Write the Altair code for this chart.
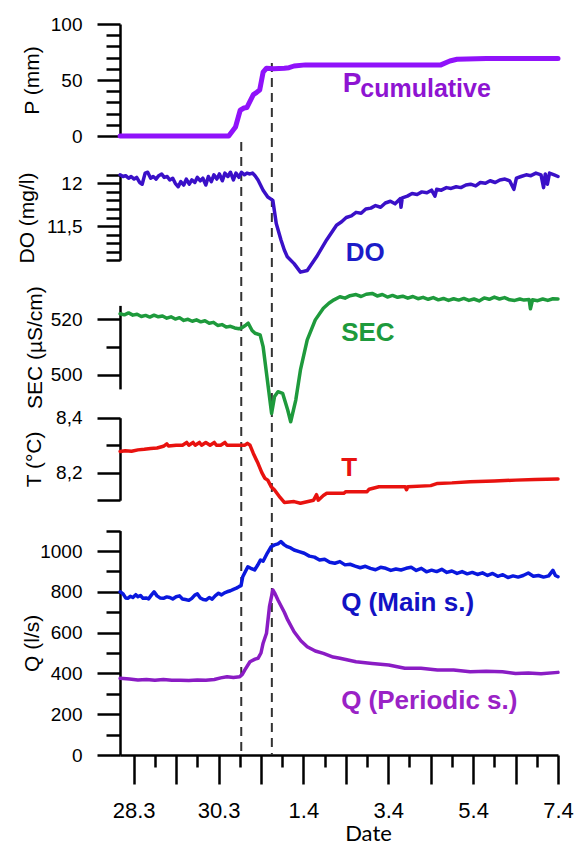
import altair as alt
import pandas as pd

# ---------------- data (days counted from 28.3 00:00) ----------------
DATE_LABELS = ["28.3", "29.3", "30.3", "31.3", "1.4", "2.4", "3.4", "4.4", "5.4", "6.4", "7.4"]
EVENT_DAYS = [2.535, 3.256]

P_DAY = [-0.32, 2.24, 2.40, 2.51, 2.60, 2.67, 2.82, 2.90, 2.97, 3.05, 3.13, 3.30, 3.55, 3.66, 3.78,
         4.05, 7.24, 7.45, 7.62, 8.31, 10.0]
P_MM = [0, 0, 8, 23, 25, 25.5, 37, 39, 41, 57, 60.5, 60, 60.5, 61, 62.5,
        63.5, 63.5, 67, 68.5, 69.3, 69.3]

DO_DAY = [-0.32, -0.25, -0.19, -0.12, -0.06, 0.01, 0.07, 0.14, 0.20, 0.27, 0.33, 0.40, 0.46, 0.53,
          0.59, 0.66, 0.72, 0.79, 0.85, 0.92, 0.98, 1.05, 1.11, 1.18, 1.24, 1.31, 1.37, 1.44, 1.50,
          1.57, 1.63, 1.70, 1.76, 1.83, 1.89, 1.96, 2.02, 2.09, 2.15, 2.22, 2.28, 2.35, 2.41, 2.48,
          2.54, 2.61, 2.67, 2.74, 2.80, 2.86, 2.93, 3.05, 3.16, 3.28, 3.36, 3.47, 3.55, 3.62, 3.78,
          3.93, 4.09, 4.31, 4.55, 4.78, 4.90, 5.01, 5.13, 5.24, 5.36, 5.47, 5.59, 5.70, 5.82, 5.93,
          6.05, 6.16, 6.28, 6.30, 6.33, 6.45, 6.56, 6.68, 6.79, 6.91, 7.02, 7.10, 7.14, 7.25, 7.37,
          7.48, 7.60, 7.71, 7.83, 7.94, 8.06, 8.17, 8.29, 8.40, 8.52, 8.63, 8.75, 8.86, 8.96, 9.02,
          9.13, 9.25, 9.36, 9.48, 9.60, 9.66, 9.70, 9.75, 9.80, 9.91, 10.0]
DO_MGL = [12.10, 12.08, 12.09, 12.06, 12.08, 12.05, 12.07, 12.01, 11.99, 12.12, 12.13, 12.06, 12.08, 12.05,
          12.09, 12.11, 12.07, 12.08, 12.04, 12.06, 12.00, 11.96, 12.02, 11.98, 12.05, 11.99, 12.04, 12.01, 12.07,
          12.03, 12.06, 11.98, 12.08, 12.02, 12.10, 12.05, 12.11, 12.03, 12.12, 12.08, 12.13, 12.04, 12.12, 12.07,
          12.13, 12.10, 12.12, 12.11, 12.12, 12.09, 12.04, 11.92, 11.84, 11.80, 11.53, 11.34, 11.22, 11.14, 11.06,
          10.96, 10.98, 11.14, 11.34, 11.51, 11.55, 11.60, 11.62, 11.66, 11.65, 11.70, 11.71, 11.74, 11.72, 11.77,
          11.79, 11.76, 11.82, 11.72, 11.83, 11.85, 11.88, 11.87, 11.90, 11.89, 11.92, 11.85, 11.93, 11.92, 11.95,
          11.94, 11.96, 11.95, 11.98, 11.99, 11.97, 12.01, 12.00, 12.03, 12.01, 12.04, 12.05, 12.03, 11.93, 12.06,
          12.08, 12.10, 12.09, 12.12, 12.10, 11.95, 12.11, 11.99, 12.12, 12.10, 12.08]

SEC_DAY = [-0.32, -0.22, -0.12, -0.02, 0.08, 0.18, 0.28, 0.38, 0.48, 0.58, 0.68, 0.78, 0.88, 0.98, 1.08,
           1.18, 1.28, 1.38, 1.48, 1.58, 1.68, 1.78, 1.88, 1.98, 2.08, 2.18, 2.28, 2.38, 2.48, 2.54, 2.64,
           2.70, 2.79, 2.86, 2.98, 3.05, 3.13, 3.25, 3.32, 3.40, 3.51, 3.63, 3.70, 3.82, 3.93, 4.09, 4.28,
           4.47, 4.60, 4.72, 4.86, 4.98, 5.10, 5.24, 5.36, 5.48, 5.62, 5.74, 5.86, 5.98, 6.10, 6.22, 6.34,
           6.46, 6.58, 6.70, 6.82, 6.94, 7.06, 7.18, 7.30, 7.42, 7.54, 7.66, 7.78, 7.90, 8.02, 8.14, 8.26,
           8.38, 8.50, 8.62, 8.74, 8.86, 8.98, 9.10, 9.20, 9.32, 9.35, 9.40, 9.52, 9.64, 9.76, 9.88, 10.0]
SEC_USCM = [522.0, 521.6, 522.3, 521.5, 521.8, 521.0, 521.4, 520.8, 521.5, 520.9, 521.2, 520.4, 520.9, 520.1, 520.6,
            519.6, 520.0, 519.3, 519.8, 519.1, 519.5, 518.6, 518.9, 517.8, 518.1, 517.2, 517.5, 516.9, 516.6, 516.9, 517.9,
            518.6, 516.0, 515.0, 514.4, 510.2, 500.6, 486.2, 492.3, 494.0, 493.4, 487.4, 483.2, 491.0, 501.8, 512.6, 519.8,
            524.0, 525.8, 527.0, 528.1, 527.6, 528.5, 528.9, 528.2, 529.0, 529.3, 528.4, 528.9, 528.0, 528.6, 527.9, 528.3,
            527.6, 528.2, 527.4, 527.9, 527.2, 527.8, 527.0, 527.5, 526.8, 527.4, 526.9, 527.5, 526.8, 527.3, 526.6, 527.7,
            527.2, 528.0, 527.3, 527.8, 527.0, 526.8, 527.3, 526.9, 527.1, 523.8, 527.0, 526.7, 527.3, 526.8, 527.4, 527.3]

T_DAY = [-0.32, -0.20, -0.05, 0.10, 0.25, 0.40, 0.55, 0.70, 0.78, 0.82, 1.00, 1.15, 1.25, 1.30, 1.40, 1.45,
         1.55, 1.60, 1.70, 1.80, 1.90, 1.95, 2.05, 2.15, 2.20, 2.35, 2.50, 2.62, 2.68, 2.74, 2.82, 2.93,
         3.02, 3.09, 3.16, 3.24, 3.32, 3.45, 3.55, 3.78, 3.93, 4.24, 4.31, 4.35, 4.47, 4.55, 4.95, 5.00,
         5.50, 5.55, 5.78, 6.40, 6.43, 6.46, 7.00, 7.16, 7.50, 7.93, 8.50, 9.00, 9.46, 10.0]
T_C = [8.277, 8.280, 8.278, 8.283, 8.285, 8.288, 8.290, 8.296, 8.305, 8.297, 8.300, 8.300, 8.310, 8.300, 8.310, 8.300,
       8.310, 8.300, 8.310, 8.300, 8.310, 8.300, 8.300, 8.310, 8.300, 8.300, 8.300, 8.300, 8.307, 8.300, 8.270, 8.234,
       8.200, 8.180, 8.173, 8.149, 8.137, 8.110, 8.092, 8.095, 8.089, 8.100, 8.120, 8.100, 8.117, 8.125, 8.125, 8.131,
       8.131, 8.140, 8.149, 8.149, 8.138, 8.149, 8.153, 8.161, 8.163, 8.167, 8.170, 8.173, 8.175, 8.177]

QM_DAY = [-0.32, -0.25, -0.19, -0.14, -0.08, -0.02, 0.05, 0.10, 0.16, 0.22, 0.29, 0.35, 0.42, 0.48, 0.55,
          0.62, 0.70, 0.78, 0.85, 0.92, 1.00, 1.08, 1.15, 1.22, 1.30, 1.37, 1.44, 1.50, 1.57, 1.64, 1.71,
          1.78, 1.85, 1.92, 2.00, 2.07, 2.14, 2.20, 2.28, 2.35, 2.42, 2.48, 2.53, 2.57, 2.69, 2.76, 2.85,
          2.92, 2.99, 3.05, 3.15, 3.24, 3.32, 3.40, 3.47, 3.55, 3.62, 3.70, 3.78, 3.90, 4.02, 4.14, 4.26,
          4.38, 4.50, 4.62, 4.74, 4.86, 4.98, 5.10, 5.22, 5.34, 5.46, 5.58, 5.70, 5.82, 5.94, 6.06, 6.18,
          6.30, 6.42, 6.54, 6.66, 6.78, 6.90, 7.02, 7.14, 7.26, 7.38, 7.50, 7.62, 7.74, 7.86, 7.98, 8.10,
          8.22, 8.34, 8.46, 8.58, 8.70, 8.82, 8.94, 9.06, 9.18, 9.30, 9.42, 9.54, 9.66, 9.78, 9.88, 9.94, 10.0]
QM_LS = [800, 790, 770, 768, 778, 772, 786, 776, 782, 768, 770, 765, 785, 800, 780,
         770, 768, 775, 772, 765, 776, 780, 765, 762, 758, 768, 784, 790, 770, 762, 760,
         772, 764, 780, 793, 785, 795, 800, 805, 812, 818, 825, 830, 874, 923, 915, 907,
         930, 956, 950, 990, 1021, 1030, 1035, 1046, 1030, 1021, 1015, 1005, 997, 989, 975, 970,
         956, 960, 945, 940, 948, 932, 935, 926, 918, 925, 915, 908, 920, 915, 905, 912,
         907, 915, 920, 905, 915, 898, 906, 899, 910, 895, 902, 890, 899, 888, 895, 885,
         893, 880, 890, 876, 884, 870, 878, 872, 880, 892, 876, 880, 872, 878, 905, 880, 874]

QP_DAY = [-0.32, -0.10, 0.10, 0.30, 0.50, 0.70, 0.90, 1.10, 1.30, 1.50, 1.70, 1.90, 2.05, 2.20, 2.35,
          2.50, 2.56, 2.62, 2.74, 2.86, 2.93, 3.00, 3.05, 3.13, 3.20, 3.28, 3.32, 3.40, 3.55, 3.63,
          3.78, 3.94, 4.09, 4.28, 4.47, 4.70, 4.86, 5.24, 5.62, 6.01, 6.39, 6.77, 7.16, 7.54, 7.93,
          8.31, 8.69, 9.00, 9.30, 9.60, 10.0]
QP_LS = [376, 372, 368, 370, 366, 370, 367, 366, 365, 368, 366, 370, 378, 384, 380,
         384, 395, 417, 457, 470, 474, 500, 548, 597, 727, 809, 795, 760, 700, 662,
         604, 560, 531, 510, 498, 480, 474, 457, 449, 441, 425, 425, 417, 417, 408,
         410, 408, 400, 402, 398, 405]

# series labels: text, day (left edge), value on own axis
P_LABEL = [("P", 4.93, 39.6, 28), ("cumulative", 5.34, 35.2, 25)]
DO_LABEL = ("DO", 5.0, 11.19)
SEC_LABEL = ("SEC", 4.89, 515.1)
T_LABEL = ("T", 4.89, 8.217)
QM_LABEL = ("Q (Main s.)", 4.89, 747)
QP_LABEL = ("Q (Periodic s.)", 4.89, 267)

# ---------------- styling ----------------
FONT = "Liberation Sans"
LEFT, W, RIGHT = 112, 438, 17
H = 731

C_P, C_PT = "#9012FA", "#8E14D2"
C_DO, C_DOT = "#3A10C8", "#1C1CC8"
C_SEC = "#1E9A3C"
C_T = "#E8120F"
C_QM, C_QMT = "#0A18DE", "#1212C4"
C_QP, C_QPT = "#8A1CC4", "#9A22C6"
LW = 3.5

xscale = alt.Scale(domain=[-0.3226, 10], nice=False, zero=False)


def lab_expr(pairs):
    expr = "''"
    for v, s in reversed(pairs):
        expr = f"abs(datum.value - {v}) < 1e-6 ? '{s}' : ({expr})"
    return expr


def size_cond(long_vals, long, short):
    test = " || ".join(f"abs(datum.value - {v}) < 1e-6" for v in long_vals)
    return {"condition": {"test": test, "value": long}, "value": short}


x_vals = [i * 0.5 for i in range(21)]
xaxis = alt.Axis(
    values=x_vals,
    labelExpr=lab_expr([(i, DATE_LABELS[i]) for i in range(0, 11, 2)]),
    tickSize=size_cond(list(range(11)), 29, 12),
    tickWidth=2.5, tickColor="black", domainColor="black", domainWidth=2.5,
    labelFont=FONT, labelFontSize=22, labelColor="black", labelPadding=16,
    labelOverlap=False, labelFlush=False, grid=False,
    title="Date", titleFont="Lato", titleFontSize=22, titleFontWeight="normal",
    titleColor="black", titleX=248, titleY=68, titleBaseline="top", titleAlign="center",
)


def yaxis(title, values, labels, long_vals, title_x, rng):
    return alt.Axis(
        title=title, orient="left", values=values, labelExpr=lab_expr(labels),
        tickSize=size_cond(long_vals, 23, 14), tickWidth=2.5, tickColor="black",
        domainColor="black", domainWidth=2.5,
        labelFont=FONT, labelFontSize=19, labelColor="black", labelPadding=15,
        labelOverlap=False, labelFlush=False, grid=False,
        titleFont=FONT, titleFontSize=21, titleFontWeight="normal", titleColor="black",
        titleAngle=270, titleBaseline="bottom", titleAlign="center",
        titleX=title_x, titleY=(rng[0] + rng[1]) / 2,
    )


def line(days, vals, color, width, scale, axis):
    df = pd.DataFrame({"day": days, "v": vals})
    return alt.Chart(df).mark_line(color=color, strokeWidth=width, strokeJoin="round",
                                   strokeCap="round").encode(
        x=alt.X("day:Q", scale=xscale, axis=xaxis),
        y=alt.Y("v:Q", scale=scale, axis=axis),
    )


def label(text, day, val, color, scale, axis, size=26, baseline="middle"):
    df = pd.DataFrame({"day": [day], "v": [val], "t": [text]})
    return alt.Chart(df).mark_text(align="left", baseline=baseline, font=FONT, fontWeight="bold",
                                   fontSize=size, color=color).encode(
        x=alt.X("day:Q", scale=xscale, axis=xaxis),
        y=alt.Y("v:Q", scale=scale, axis=axis),
        text="t:N",
    )


# P panel
rP = [112, 0]
sP = alt.Scale(domain=[0, 100], range=rP, nice=False, zero=False)
aP = yaxis("P (mm)", list(range(0, 101, 10)), [(0, "0"), (50, "50"), (100, "100")], [0, 50, 100], -78, rP)
panelP = alt.layer(
    line(P_DAY, P_MM, C_P, 5, sP, aP),
    label(P_LABEL[0][0], P_LABEL[0][1], P_LABEL[0][2], C_PT, sP, aP, P_LABEL[0][3], "alphabetic"),
    label(P_LABEL[1][0], P_LABEL[1][1], P_LABEL[1][2], C_PT, sP, aP, P_LABEL[1][3], "alphabetic"),
)

# DO panel
rDO = [236.2, 150.8]
sDO = alt.Scale(domain=[11.1, 12.1], range=rDO, nice=False, zero=False)
aDO = yaxis("DO (mg/l)", [round(11.1 + 0.1 * i, 1) for i in range(11)], [(12, "12"), (11.5, "11,5")],
            [11.5, 12], -83, rDO)
panelDO = alt.layer(
    line(DO_DAY, DO_MGL, C_DO, LW, sDO, aDO),
    label(DO_LABEL[0], DO_LABEL[1], DO_LABEL[2], C_DOT, sDO, aDO),
)

# SEC panel
rSEC = [364.9, 281.4]
sSEC = alt.Scale(domain=[495, 525], range=rSEC, nice=False, zero=False)
aSEC = yaxis("SEC (µS/cm)", [500, 510, 520], [(500, "500"), (520, "520")], [500, 520], -75, rSEC)
panelSEC = alt.layer(
    line(SEC_DAY, SEC_USCM, C_SEC, LW, sSEC, aSEC),
    label(SEC_LABEL[0], SEC_LABEL[1], SEC_LABEL[2], C_SEC, sSEC, aSEC),
)

# T panel
rT = [476.2, 393.7]
sT = alt.Scale(domain=[8.1, 8.4], range=rT, nice=False, zero=False)
aT = yaxis("T (°C)", [8.1, 8.2, 8.3, 8.4], [(8.2, "8,2"), (8.4, "8,4")], [8.1, 8.2, 8.4], -76, rT)
panelT = alt.layer(
    line(T_DAY, T_C, C_T, LW, sT, aT),
    label(T_LABEL[0], T_LABEL[1], T_LABEL[2], C_T, sT, aT),
)

# Q panel
rQ = [731, 506.6]
sQ = alt.Scale(domain=[0, 1100], range=rQ, nice=False, zero=False)
aQ = yaxis("Q (l/s)", list(range(0, 1101, 100)), [(v, str(v)) for v in range(0, 1001, 200)],
           list(range(0, 1001, 200)), -78, rQ)
panelQ = alt.layer(
    line(QM_DAY, QM_LS, C_QM, LW, sQ, aQ),
    line(QP_DAY, QP_LS, C_QP, LW, sQ, aQ),
    label(QM_LABEL[0], QM_LABEL[1], QM_LABEL[2], C_QMT, sQ, aQ),
    label(QP_LABEL[0], QP_LABEL[1], QP_LABEL[2], C_QPT, sQ, aQ),
)

# dashed event lines
rules = []
for d, top in zip(EVENT_DAYS, [118, 39]):
    rules.append(
        alt.Chart(pd.DataFrame({"day": [d]})).mark_rule(color="#333333", strokeWidth=2,
                                                         strokeDash=[9, 6]).encode(
            x=alt.X("day:Q", scale=xscale, axis=xaxis),
            y=alt.value(top), y2=alt.value(H),
        )
    )

chart = alt.layer(*rules, panelP, panelDO, panelSEC, panelT, panelQ).resolve_scale(
    y="independent"
).properties(
    width=W, height=H,
    autosize=alt.AutoSizeParams(type="none"),
    padding={"left": LEFT, "top": 16, "right": RIGHT, "bottom": 90},
    background="white",
).configure_view(stroke=None)

chart.save("out.html", embed_options={"renderer": "svg", "actions": False})
